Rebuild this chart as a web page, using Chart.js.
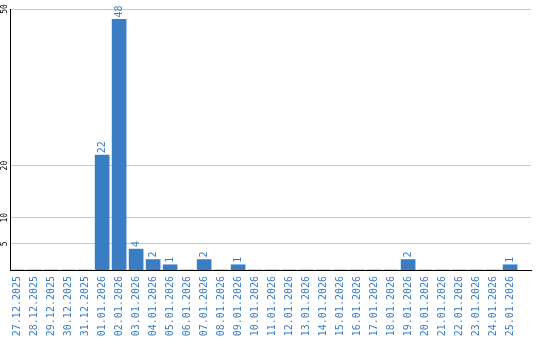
<!DOCTYPE html>
<html><head><meta charset="utf-8">
<script src="https://cdn.jsdelivr.net/npm/chart.js@4"></script>
<style>html,body{margin:0;padding:0;background:#fff}#wrap{width:540px;height:340px}</style>
</head><body><div id="wrap"><canvas id="c" width="540" height="340"></canvas></div>
<script>
const categories = ["27.12.2025","28.12.2025","29.12.2025","30.12.2025","31.12.2025","01.01.2026","02.01.2026","03.01.2026","04.01.2026","05.01.2026","06.01.2026","07.01.2026","08.01.2026","09.01.2026","10.01.2026","11.01.2026","12.01.2026","13.01.2026","14.01.2026","15.01.2026","16.01.2026","17.01.2026","18.01.2026","19.01.2026","20.01.2026","21.01.2026","22.01.2026","23.01.2026","24.01.2026","25.01.2026"];
const values = [0,0,0,0,0,22,48,4,2,1,0,2,0,1,0,0,0,0,0,0,0,0,0,2,0,0,0,0,0,1];
const yTicks = [5,10,20,50];
const BLUE = '#3b7dc3';

const labelPlugin = {
  id: 'vlabels',
  afterDatasetsDraw(chart) {
    const ctx = chart.ctx;
    const meta = chart.getDatasetMeta(0);
    ctx.save();
    ctx.fillStyle = BLUE;
    ctx.font = '10px "DejaVu Sans Mono"';
    ctx.textAlign = 'left';
    ctx.textBaseline = 'middle';
    meta.data.forEach((bar, i) => {
      const v = values[i];
      if (!v) return;
      ctx.save();
      ctx.translate(bar.x, bar.y - 2);
      ctx.rotate(-Math.PI / 2);
      ctx.fillText(String(v), 0, 0);
      ctx.restore();
    });
    // y tick labels, rotated, centred on their grid lines
    const ys = chart.scales.y;
    ctx.fillStyle = '#000';
    ctx.font = '8px "DejaVu Sans Mono"';
    ctx.textAlign = 'center';
    ctx.textBaseline = 'middle';
    yTicks.forEach(v => {
      ctx.save();
      ctx.translate(5, ys.getPixelForValue(v));
      ctx.rotate(-Math.PI / 2);
      ctx.fillText(String(v), 0, 0);
      ctx.restore();
    });
    ctx.restore();
  }
};

new Chart(document.getElementById('c'), {
  type: 'bar',
  data: {
    datasets: [{
      data: values.map((v, i) => ({x: i, y: v})),
      backgroundColor: BLUE,
      barThickness: 14
    }]
  },
  options: {
    responsive: false,
    animation: false,
    layout: {padding: {top: 9, right: 9, left: 0, bottom: 0}},
    plugins: {legend: {display: false}, tooltip: {enabled: false}},
    scales: {
      x: {
        type: 'linear',
        offset: false,
        min: -0.42,
        max: 30.23,
        afterBuildTicks(scale) { scale.ticks = categories.map((c, i) => ({value: i})); },
        afterFit(scale) { scale.height = 70; scale.paddingLeft = 0; scale.paddingRight = 0; },
        grid: {display: false, drawTicks: false},
        border: {display: true, color: '#000', width: 1},
        ticks: {
          autoSkip: false,
          minRotation: 90,
          maxRotation: 90,
          padding: 6,
          color: BLUE,
          font: {family: 'DejaVu Sans Mono', size: 10},
          callback: (v) => categories[v] !== undefined ? categories[v] : ''
        }
      },
      y: {
        min: 0,
        max: 50,
        afterBuildTicks(scale) { scale.ticks = yTicks.map(v => ({value: v})); },
        afterFit(scale) { scale.width = 10; scale.paddingTop = 0; scale.paddingBottom = 0; },
        grid: {color: '#c8c8c8', drawTicks: false, lineWidth: 1},
        border: {display: true, color: '#000', width: 1},
        ticks: {display: false}
      }
    }
  },
  plugins: [labelPlugin]
});
</script>
</body></html>
